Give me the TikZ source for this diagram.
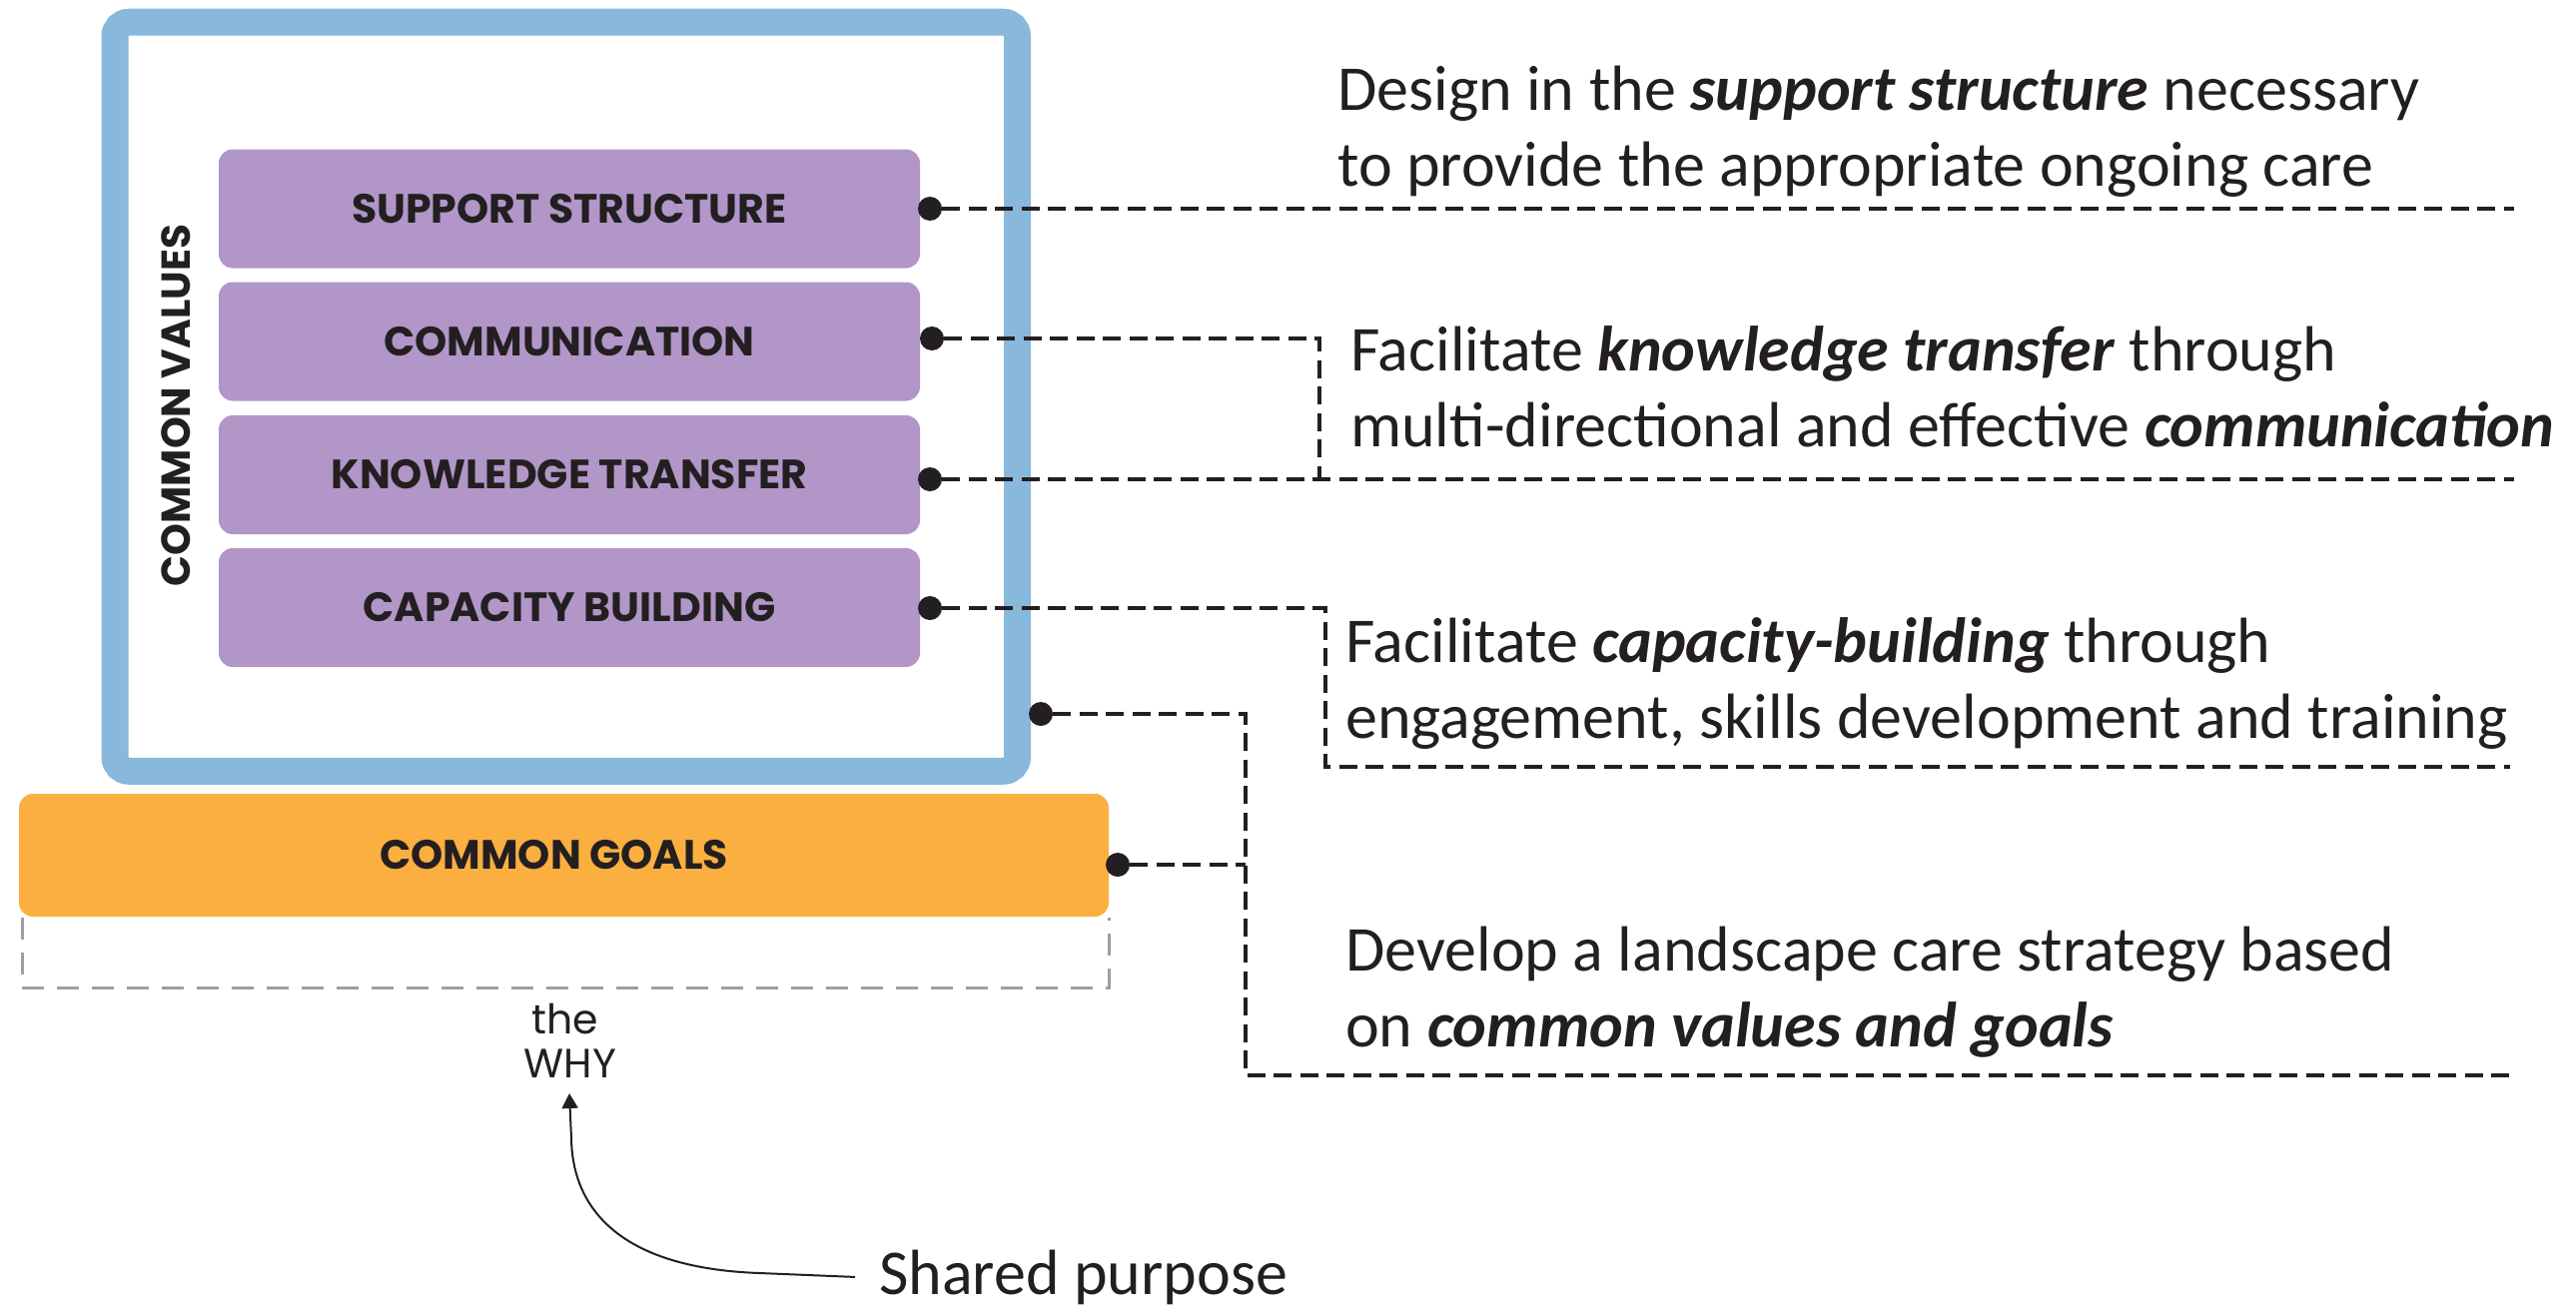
\documentclass[tikz,border=0pt]{standalone}
\usepackage{fontspec}
\setmainfont{Carlito}
\newfontfamily\capsfont{Poppins}
\usetikzlibrary{arrows.meta}
\definecolor{cvblue}{RGB}{136,184,220}
\definecolor{cvpurple}{RGB}{177,150,199}
\definecolor{cvorange}{RGB}{251,175,65}
\definecolor{txtdark}{RGB}{35,31,32}
\definecolor{cvgray}{RGB}{157,159,162}
\begin{document}
\begin{tikzpicture}[x=1pt,y=-1pt,
  cvframe/.style={draw=cvblue,line width=27pt,rounded corners=14pt,inner sep=0pt},
  pbox/.style={fill=cvpurple,rounded corners=14pt,minimum width=702pt,minimum height=119pt,inner sep=0pt,
    text=txtdark,font=\capsfont\bfseries\fontsize{41}{43}\selectfont},
  gbox/.style={fill=cvorange,rounded corners=14pt,minimum width=1091pt,minimum height=123pt,inner sep=0pt,
    text=txtdark,font=\capsfont\bfseries\fontsize{41}{43}\selectfont},
  jdot/.style={circle,fill=txtdark,inner sep=0pt,minimum size=24pt},
  conn/.style={draw=txtdark,line width=3.5pt,dash pattern=on 18pt off 8.5pt},
  gdash/.style={draw=cvgray,line width=3pt,dash pattern=on 22pt off 13pt},
  desc/.style={anchor=base west,inner sep=0pt,align=left,text=txtdark,font=\fontsize{64}{76}\selectfont}
]
\useasboundingbox (0,0) rectangle (2579,1311);

% common values frame
\node[cvframe,minimum width=903.5pt,minimum height=750pt] (frame) at (566.75,397.25) {};
\node[rotate=90,inner sep=0pt,text=txtdark,font=\capsfont\bfseries\fontsize{40.5}{43}\selectfont] (cv) at (176,406) {COMMON VALUES};

% layers
\node[pbox] (ss) at (570,209) {SUPPORT STRUCTURE};
\node[pbox] (cm) at (570,342) {COMMUNICATION};
\node[pbox] (kt) at (570,475.5) {KNOWLEDGE TRANSFER};
\node[pbox] (cb) at (570,608.5) {CAPACITY BUILDING};

% goals
\node[gbox] (goals) at (564.5,856.5) {\hspace*{-20pt}COMMON GOALS};
\draw[gdash] (22,919) -- (22,989) -- (1110,989) -- (1110,919);

% dots
\node[jdot] (d1) at (931,209) {};
\node[jdot] (d2) at (933,339) {};
\node[jdot] (d3) at (931,480) {};
\node[jdot] (d4) at (931,609) {};
\node[jdot] (d5) at (1042,715) {};
\node[jdot] (d6) at (1119,866) {};

% connector points
\coordinate (e1) at (2517,209);
\coordinate (j2) at (1321,480);
\coordinate (e3) at (2517,480);
\coordinate (c4) at (1327,768);
\coordinate (e4) at (2513,768);
\coordinate (c5) at (1247,1077);
\coordinate (e5) at (2513,1077);
\coordinate (j6) at (1247,866);

\draw[conn] (d1) -- (e1);
\draw[conn] (d2) -| (j2);
\draw[conn] (d3) -- (e3);
\draw[conn] (d4) -| (c4) -- (e4);
\draw[conn] (d5) -| (c5) -- (e5);
\draw[conn] (d6) -- (j6);

% descriptions (base = baseline of the last line)
\node[desc] (t1) at (1339,186) {Design in the \textbf{\textit{support structure}} necessary\\to provide the appropriate ongoing care};
\node[desc] (t2) at (1352,447) {Facilitate \textbf{\textit{knowledge transfer}} through\\multi-directional and effective \textbf{\textit{communication}}};
\node[desc] (t3) at (1347,739) {Facilitate \textbf{\textit{capacity-building}} through\\engagement, skills development and training};
\node[desc] (t4) at (1347,1048) {Develop a landscape care strategy based\\on \textbf{\textit{common values and goals}}};

% the why
\node[anchor=base,inner sep=0pt,text=txtdark,font=\capsfont\fontsize{41}{44}\selectfont] (the) at (566,1035) {the};
\node[anchor=base,inner sep=0pt,text=txtdark,font=\capsfont\fontsize{41}{44}\selectfont] (why) at (571,1079) {WHY};
\node[anchor=base west,inner sep=0pt,text=txtdark,font=\fontsize{64}{76}\selectfont] (shared) at (880,1296) {Shared purpose};

\coordinate (tip) at (570,1095);
\draw[txtdark,line width=2pt,-{Triangle[length=15pt,width=16pt]}]
  ([xshift=-24pt]shared.west) -- (760,1275) .. controls (620,1270) and (573,1210) .. (572,1140) -- (tip);
\end{tikzpicture}
\end{document}
